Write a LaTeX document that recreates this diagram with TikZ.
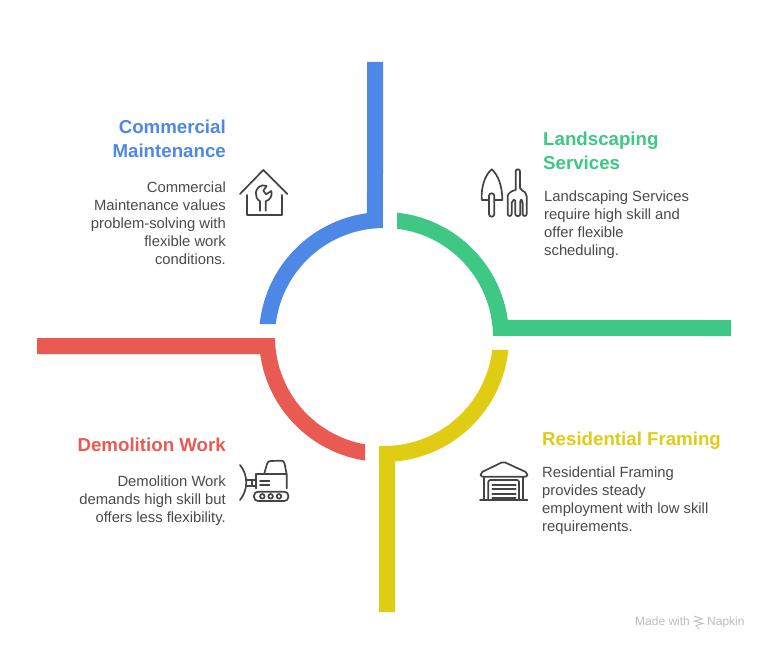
\documentclass[tikz,border=0pt]{standalone}
\usepackage{fontspec}
\setmainfont{Liberation Sans}
\definecolor{cblue}{HTML}{4E88E7}
\definecolor{cgreen}{HTML}{3EC785}
\definecolor{cyellow}{HTML}{E0CD13}
\definecolor{cred}{HTML}{E85A52}
\definecolor{ctext}{HTML}{4A4A4A}
\definecolor{cicon}{HTML}{444444}
\definecolor{cmark}{HTML}{BDBDBD}
\tikzset{
  head/.style={inner sep=0pt,font=\fontsize{18.7}{24}\selectfont\bfseries},
  headL/.style={head,anchor=north west,align=left},
  headR/.style={head,anchor=north east,align=right},
  bodyL/.style={inner sep=0pt,anchor=north west,align=left,text=ctext,font=\fontsize{14.8}{18}\selectfont},
  bodyR/.style={inner sep=0pt,anchor=north east,align=right,text=ctext,font=\fontsize{14.8}{18}\selectfont},
  icon/.style={draw=cicon,line width=1.7pt,line cap=round,line join=round,fill=none},
  zoomed/.style={x=0.3333pt,y=-0.3333pt}
}
\begin{document}
\begin{tikzpicture}[x=1pt,y=1pt]
\useasboundingbox[fill=white] (0,0) rectangle (768,649);
\coordinate (c) at (384,312);
% ring segments
\fill[cblue] ([shift={(174.03:125)}]c) arc[start angle=174.03,end angle=97.82,radius=125]
  -- (367,587) -- (383,587) -- ([shift={(90.53:109)}]c)
  arc[start angle=90.53,end angle=173.15,radius=109] -- cycle;
\fill[cgreen] ([shift={(84.03:125)}]c) arc[start angle=84.03,end angle=7.82,radius=125]
  -- (731,329) -- (731,313) -- ([shift={(0.53:109)}]c)
  arc[start angle=0.53,end angle=83.15,radius=109] -- cycle;
\fill[cyellow] ([shift={(-5.97:125)}]c) arc[start angle=-5.97,end angle=-84.95,radius=125]
  -- (395,37) -- (379,37) -- ([shift={(-92.63:109)}]c)
  arc[start angle=-92.63,end angle=-6.85,radius=109] -- cycle;
\fill[cred] ([shift={(-98.74:125)}]c) arc[start angle=-98.74,end angle=-172.18,radius=125]
  -- (37,295) -- (37,311) -- ([shift={(-179.47:109)}]c)
  arc[start angle=-179.47,end angle=-100.04,radius=109] -- cycle;
% texts
\node[headR,text=cblue] (h1) at (226,529) {Commercial\\Maintenance};
\node[bodyR] (b1) at (226,467.5) {Commercial\\Maintenance values\\problem-solving with\\flexible work\\conditions.};
\node[headL,text=cgreen] (h2) at (543,517) {Landscaping\\Services};
\node[bodyL] (b2) at (544,458.5) {Landscaping Services\\require high skill and\\offer flexible\\scheduling.};
\node[headL,text=cyellow] (h3) at (542,217) {Residential Framing};
\node[bodyL] (b3) at (542,182.5) {Residential Framing\\provides steady\\employment with low skill\\requirements.};
\node[headR,text=cred] (h4) at (226,211) {Demolition Work};
\node[bodyR] (b4) at (226,173.5) {Demolition Work\\demands high skill but\\offers less flexibility.};
\node[inner sep=0pt,anchor=base west,text=cmark,font=\fontsize{12}{14}\selectfont] (m1) at (635,24) {Made with};
\node[inner sep=0pt,anchor=base west,text=cmark,font=\fontsize{12}{14}\selectfont] (m2) at (707,24) {Napkin};
\draw[cmark,line width=0.9pt] (694,33)--(702,30)--(694.5,28)--(703,25.5)--(696,23.5)--(699,20);
% house + wrench icon
\begin{scope}[shift={(230pt,489pt)},zoomed]
\draw[icon] (30,102)--(100,30)--(172,102);
\draw[icon] (50,105)--(50,165)--(155,165)--(155,105);
\draw[icon] (90,152)--(90,124) .. controls (72,114) and (72,82) .. (98,76)
  -- (110,78) -- (100,92) -- (108,103) -- (124,93)
  .. controls (128,108) and (120,120) .. (107,124) -- (107,152);
\end{scope}
% trowel and fork icon
\begin{scope}[shift={(470pt,489pt)},zoomed]
\draw[icon] (57,120)--(35,120) .. controls (33,80) and (45,45) .. (65,28)
  .. controls (85,45) and (97,80) .. (97,120) -- (73,120);
\draw[icon,rounded corners=2.5pt] (57,100) rectangle (73,170);
\draw[icon,rounded corners=2pt] (137,90)--(137,28)--(150,28)--(150,90)
  .. controls (162,92) and (170,100) .. (170,115)--(170,168)--(158,168)--(158,122)
  -- (151,118)--(151,168)--(136,168)--(136,118)--(125,122)--(125,168)--(113,168)--(113,115)
  .. controls (113,100) and (125,92) .. (137,90);
\end{scope}
% bulldozer icon
\begin{scope}[shift={(230pt,199pt)},zoomed]
\draw[icon] (30,45) .. controls (55,75) and (55,120) .. (30,150);
\draw[icon] (50,90)--(78,90) (50,108)--(78,108) (65,90)--(65,108);
\draw[icon] (78,115)--(78,72)--(168,72);
\draw[icon] (103,70)--(111,42) .. controls (113,36) and (116,33) .. (122,33)
  -- (155,32) .. controls (160,32) and (163,36) .. (164,42) -- (170,72)--(170,115);
\draw[icon] (90,92)--(118,92) (90,105)--(118,105);
\draw[icon,rounded corners=4pt] (72,125) rectangle (175,153);
\draw[icon] (97,139) circle[radius=2.3pt] (122,139) circle[radius=2.3pt] (147,139) circle[radius=2.3pt];
\end{scope}
% garage icon
\begin{scope}[shift={(470pt,199pt)},zoomed]
\begin{scope}[every path/.append style={line width=1.8pt}]
\draw[icon,rounded corners=2pt] (32,68)--(100,35)--(172,68)--(172,80)--(32,80)--cycle;
\draw[icon] (42,80)--(42,148) (160,80)--(160,148) (30,150)--(172,150);
\draw[icon,rounded corners=2pt] (55,148)--(55,90)--(147,90)--(147,148);
\draw[icon] (67,105)--(137,105) (67,118)--(137,118) (67,131)--(137,131) (67,144)--(137,144);
\end{scope}
\end{scope}
\end{tikzpicture}
\end{document}
